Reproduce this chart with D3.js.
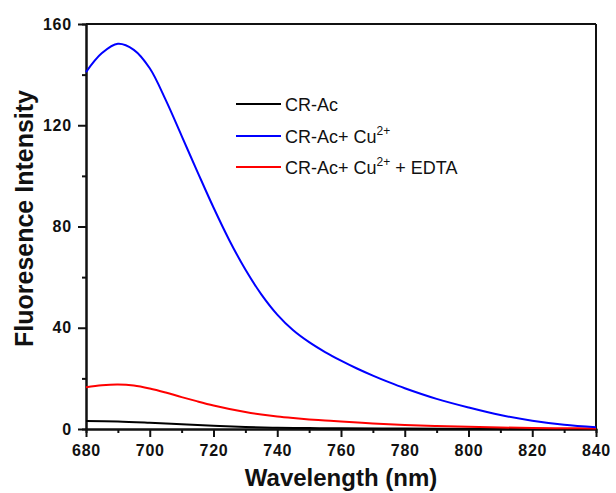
<!DOCTYPE html>
<html>
<head>
<meta charset="utf-8">
<script src="https://cdn.jsdelivr.net/npm/d3@7"></script>
<style>
  body { margin: 0; background: #fff; }
  text { font-family: "Liberation Sans", Arial, sans-serif; fill: #111; }
</style>
</head>
<body>
<div id="chart"></div>
<script>
const wlBlue = [680, 685, 690, 695, 700, 705, 710, 715, 720, 725, 730, 735, 740, 745, 750, 755, 760, 765, 770, 775, 780, 790, 800, 810, 820, 830, 840];
const blue   = [141, 148.5, 152.2, 149.8, 142.5, 130, 115.8, 101.5, 87.5, 74.5, 63, 53.2, 45.2, 39, 34.3, 30.4, 27, 23.9, 21.1, 18.5, 16.1, 11.9, 8.5, 5.5, 3.3, 1.7, 0.7];

const wlRed = [680, 685, 690, 695, 700, 705, 710, 715, 720, 725, 730, 735, 740, 745, 750, 755, 760, 770, 780, 790, 800, 810, 820, 830, 840];
const red   = [16.5, 17.3, 17.6, 17.2, 16.0, 14.4, 12.6, 10.9, 9.3, 7.9, 6.7, 5.7, 4.9, 4.3, 3.8, 3.4, 3.0, 2.2, 1.6, 1.2, 0.9, 0.6, 0.4, 0.3, 0.2];

const wlBlack = [680, 690, 700, 710, 720, 730, 740, 750, 760, 780, 800, 820, 840];
const black   = [3.2, 3.0, 2.5, 1.9, 1.3, 0.8, 0.5, 0.35, 0.25, 0.15, 0.1, 0.05, 0];

const xTicks = [680, 700, 720, 740, 760, 780, 800, 820, 840];
const yTicks = [0, 40, 80, 120, 160];

const W = 616, H = 493;
const margin = { top: 24, right: 20, bottom: 64, left: 86 };
const width = W - margin.left - margin.right;
const height = H - margin.top - margin.bottom;

const svg = d3.select("#chart")
  .append("svg")
  .attr("width", W)
  .attr("height", H);

const g = svg.append("g")
  .attr("transform", `translate(${margin.left},${margin.top})`);

const x = d3.scaleLinear().domain([680, 840]).range([0, width]);
const y = d3.scaleLinear().domain([0, 160]).range([height, 0]);

// минорные деления
const xMinor = d3.axisBottom(x).tickValues(d3.range(690, 840, 20)).tickSize(4).tickFormat("");
const yMinor = d3.axisLeft(y).tickValues(d3.range(20, 160, 40)).tickSize(4).tickFormat("");

g.append("g").attr("transform", `translate(0,${height})`).call(xMinor);
g.append("g").call(yMinor);

const xAxis = d3.axisBottom(x).tickValues(xTicks).tickSize(8).tickPadding(8).tickSizeOuter(0);
const yAxis = d3.axisLeft(y).tickValues(yTicks).tickSize(8).tickPadding(6).tickSizeOuter(0);

g.append("g")
  .attr("class", "axis")
  .attr("transform", `translate(0,${height})`)
  .call(xAxis);

g.append("g")
  .attr("class", "axis")
  .call(yAxis);

g.selectAll(".domain, .tick line").attr("stroke", "#111").attr("stroke-width", 2);
g.selectAll(".axis .tick text")
  .attr("font-size", 16)
  .attr("font-weight", "bold")
  .style("letter-spacing", "0.8px");

// рамка сверху и справа
g.append("line").attr("x1", 0).attr("x2", width).attr("y1", 0).attr("y2", 0)
  .attr("stroke", "#111").attr("stroke-width", 2);
g.append("line").attr("x1", width).attr("x2", width).attr("y1", 0).attr("y2", height)
  .attr("stroke", "#111").attr("stroke-width", 2);

const line = d3.line()
  .x(d => x(d[0]))
  .y(d => y(d[1]))
  .curve(d3.curveCatmullRom.alpha(0.5));

const series = [
  { wl: wlBlack, v: black, color: "#000" },
  { wl: wlRed, v: red, color: "#ff0000" },
  { wl: wlBlue, v: blue, color: "#0000ff" }
];

series.forEach(s => {
  g.append("path")
    .datum(d3.zip(s.wl, s.v))
    .attr("fill", "none")
    .attr("stroke", s.color)
    .attr("stroke-width", 2)
    .attr("d", line);
});

// Легенда
const legend = [
  { color: "#000", y: 104, label: "CR-Ac", sup: null, tail: "" },
  { color: "#0000ff", y: 136, label: "CR-Ac+ Cu", sup: "2+", tail: "" },
  { color: "#ff0000", y: 167, label: "CR-Ac+ Cu", sup: "2+", tail: " + EDTA" }
];

legend.forEach(l => {
  svg.append("line")
    .attr("x1", 236).attr("x2", 281)
    .attr("y1", l.y).attr("y2", l.y)
    .attr("stroke", l.color).attr("stroke-width", 2);
  const t = svg.append("text")
    .attr("x", 285).attr("y", l.y + 6.5)
    .attr("font-size", 18);
  t.append("tspan").text(l.label);
  if (l.sup) {
    t.append("tspan").attr("dy", -8).attr("font-size", 12).text(l.sup);
    t.append("tspan").attr("dy", 8).text(l.tail);
  }
});

// Подписи осей
svg.append("text")
  .attr("x", margin.left + width / 2)
  .attr("y", 486)
  .attr("text-anchor", "middle")
  .attr("font-size", 24)
  .attr("font-weight", "bold")
  .text("Wavelength (nm)");

svg.append("text")
  .attr("transform", `translate(33,${margin.top + height / 2 - 8}) rotate(-90)`)
  .attr("text-anchor", "middle")
  .attr("font-size", 25)
  .attr("font-weight", "bold")
  .text("Fluoresence Intensity");
</script>
</body>
</html>
